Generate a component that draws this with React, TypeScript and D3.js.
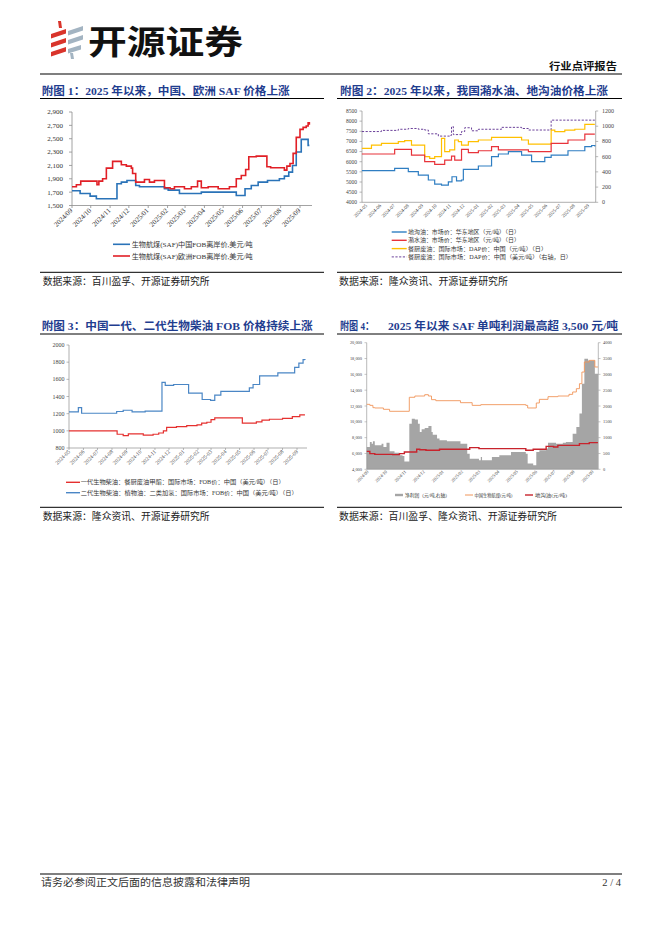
import React from "react";
import * as d3 from "d3";

// ---------- Chart 1 data ----------
const c1Months = ["2024/09","2024/10","2024/11","2024/12","2025/01","2025/02","2025/03","2025/04","2025/05","2025/06","2025/07","2025/08","2025/09"];
const c1YTicks = [1500,1700,1900,2100,2300,2500,2700,2900];
const safChinaDates = ["2024-09-01","2024-09-14","2024-09-30","2024-10-10","2024-11-12","2024-11-19","2024-11-28","2024-12-12","2024-12-18","2025-01-27","2025-02-02","2025-02-20","2025-03-27","2025-05-22","2025-06-05","2025-06-15","2025-06-26","2025-07-11","2025-07-30","2025-08-07","2025-08-14","2025-08-20","2025-08-26","2025-09-03","2025-09-14","2025-09-16"];
const safChinaPrices = [1720,1680,1640,1600,1825,1850,1875,1800,1780,1750,1730,1680,1700,1650,1750,1800,1850,1875,1900,1940,2000,2100,2300,2490,2400,2400];
const safEuropeDates = ["2024-09-01","2024-09-08","2024-09-15","2024-10-11","2024-10-14","2024-10-20","2024-10-26","2024-11-05","2024-11-19","2024-11-27","2024-12-05","2024-12-07","2024-12-12","2024-12-26","2025-01-03","2025-01-11","2025-01-27","2025-02-05","2025-02-12","2025-02-28","2025-03-11","2025-03-21","2025-03-27","2025-04-07","2025-04-23","2025-05-11","2025-05-22","2025-05-30","2025-06-06","2025-06-11","2025-06-23","2025-07-10","2025-07-16","2025-08-07","2025-08-11","2025-08-16","2025-08-21","2025-08-26","2025-09-01","2025-09-06","2025-09-11","2025-09-14","2025-09-16"];
const safEuropePrices = [1780,1810,1865,1810,1865,1900,2060,2160,2110,2090,2060,1980,1850,1890,1850,1875,1765,1750,1780,1750,1780,1865,1765,1780,1750,1780,1900,1950,2040,2230,2240,2080,2065,2030,2090,2130,2280,2520,2640,2670,2690,2740,2710];

// ---------- Chart 2 data ----------
const c2Months = ["2024-05","2024-06","2024-07","2024-08","2024-09","2024-10","2024-11","2024-12","2025-01","2025-02","2025-03","2025-04","2025-05","2025-06","2025-07","2025-08","2025-09"];
const c2LeftTicks = [4000,4500,5000,5500,6000,6500,7000,7500,8000,8500];
const c2RightTicks = [0,200,400,600,800,1000,1200];
const gutterDates = ["2024-04-22","2024-07-03","2024-08-02","2024-08-24","2024-09-15","2024-09-29","2024-10-14","2024-10-29","2024-11-06","2024-11-16","2024-11-27","2024-12-01","2025-01-03","2025-02-01","2025-02-16","2025-03-10","2025-04-08","2025-04-30","2025-05-29","2025-06-12","2025-07-19","2025-08-25","2025-09-09","2025-09-16"];
const gutterPrices = [5560,5670,5510,5340,5100,4900,4850,5010,5260,5060,5100,5620,5790,6250,6380,6500,6330,6000,6210,6330,6540,6740,6800,6750];
const swillDates = ["2024-04-22","2024-07-03","2024-08-09","2024-09-07","2024-09-29","2024-10-21","2024-11-05","2024-11-12","2024-11-27","2024-12-12","2025-01-03","2025-02-01","2025-02-16","2025-04-23","2025-06-12","2025-07-19","2025-08-25","2025-09-16"];
const swillPrices = [6380,6610,6330,6000,5870,6080,6280,6080,6610,6450,6540,6740,6580,6500,6900,7070,7360,7360];
const kitchenCnyDates = ["2024-04-22","2024-05-13","2024-06-04","2024-07-11","2024-07-25","2024-08-09","2024-09-07","2024-09-18","2024-09-29","2024-10-14","2024-10-21","2024-11-01","2024-11-12","2024-11-20","2024-11-27","2024-12-12","2025-01-03","2025-02-01","2025-04-08","2025-04-23","2025-06-12","2025-06-20","2025-07-12","2025-08-03","2025-08-25","2025-09-16"];
const kitchenCnyPrices = [6660,6820,6900,6990,7040,6820,6250,6165,6250,7150,6500,6580,7070,6990,6820,6990,7070,7200,7070,6870,7560,7480,7560,7600,7840,7840];
const kitchenUsdDates = ["2024-04-22","2024-06-04","2024-07-11","2024-08-02","2024-08-24","2024-09-07","2024-09-15","2024-10-07","2024-11-01","2024-11-05","2024-11-09","2024-11-27","2024-12-04","2024-12-19","2025-01-03","2025-02-23","2025-04-08","2025-04-23","2025-06-12","2025-09-16"];
const kitchenUsdPrices = [930,945,960,970,960,950,900,870,880,995,890,930,980,940,960,985,970,950,1080,1080];

// ---------- Chart 3 data ----------
const c3Months = ["2024-05","2024-06","2024-07","2024-08","2024-09","2024-10","2024-11","2024-12","2025-01","2025-02","2025-03","2025-04","2025-05","2025-06","2025-07","2025-08","2025-09"];
const c3YTicks = [800,1000,1200,1400,1600,1800,2000];
const bio1Dates = ["2024-05-01","2024-08-12","2024-08-25","2024-09-05","2024-10-07","2024-10-28","2024-11-09","2024-11-19","2024-11-26","2024-12-17","2025-01-08","2025-01-30","2025-02-09","2025-02-20","2025-03-01","2025-03-09","2025-05-07","2025-06-06","2025-06-18","2025-07-04","2025-08-01","2025-08-22","2025-09-07","2025-09-18"];
const bio1Prices = [1000,960,945,965,950,960,975,1000,1040,1050,1060,1070,1090,1100,1130,1150,1090,1105,1125,1135,1145,1165,1185,1185];
const bio2Dates = ["2024-05-01","2024-05-21","2024-05-28","2024-08-11","2024-08-25","2024-09-13","2024-10-11","2024-11-16","2024-11-23","2024-12-11","2025-01-12","2025-02-10","2025-02-28","2025-03-09","2025-03-22","2025-05-22","2025-05-30","2025-06-13","2025-07-22","2025-08-27","2025-09-05","2025-09-14","2025-09-18"];
const bio2Prices = [1220,1270,1205,1225,1240,1220,1230,1565,1530,1540,1440,1365,1355,1415,1460,1500,1540,1640,1675,1740,1790,1830,1825];

// ---------- Chart 4 data ----------
const c4Months = ["2024/09","2024/10","2024/11","2024/12","2025/01","2025/02","2025/03","2025/04","2025/05","2025/06","2025/07","2025/08","2025/09"];
const c4LeftTicks = [4000,6000,8000,10000,12000,14000,16000,18000,20000];
const c4RightTicks = [0,500,1000,1500,2000,2500,3000,3500,4000];
const profitDates = ["2024-08-30","2024-09-04","2024-09-07","2024-09-09","2024-09-12","2024-09-23","2024-09-26","2024-10-01","2024-10-06","2024-10-14","2024-10-22","2024-10-27","2024-10-30","2024-11-07","2024-11-11","2024-11-16","2024-11-21","2024-11-24","2024-11-27","2024-12-02","2024-12-08","2024-12-13","2024-12-15","2024-12-22","2024-12-26","2025-01-07","2025-01-29","2025-02-09","2025-02-13","2025-02-28","2025-03-03","2025-03-05","2025-03-21","2025-04-02","2025-04-21","2025-05-15","2025-05-18","2025-05-27","2025-06-01","2025-06-06","2025-06-17","2025-06-20","2025-07-03","2025-07-14","2025-07-19","2025-07-30","2025-08-05","2025-08-10","2025-08-14","2025-08-18","2025-08-24","2025-09-04","2025-09-09"];
const profitValues = [705,865,810,885,760,810,705,840,570,525,440,420,250,1440,1600,1570,1440,1180,1265,1305,1370,1180,1095,970,915,885,810,495,335,285,390,285,390,440,547,495,180,125,547,600,655,840,810,840,865,1125,1335,1760,2705,3495,3440,3020,3020];
const safCnyDates = ["2024-08-30","2024-09-04","2024-09-09","2024-09-12","2024-09-26","2024-10-06","2024-11-07","2024-11-16","2024-12-02","2024-12-08","2024-12-13","2024-12-20","2025-01-29","2025-02-17","2025-03-03","2025-05-15","2025-05-18","2025-06-01","2025-06-06","2025-06-20","2025-07-06","2025-07-24","2025-07-30","2025-08-05","2025-08-10","2025-08-14","2025-08-18","2025-08-26","2025-09-04","2025-09-09"];
const safCnyPrices = [12210,12080,11790,11750,11580,11330,13100,13260,13430,13260,12800,12670,12420,12080,12170,12080,11750,12380,12840,13180,13260,13470,13770,14190,14820,16290,17560,17770,16930,16930];
const ucoDates = ["2024-08-30","2024-09-04","2024-09-12","2024-10-11","2024-10-22","2024-10-30","2024-11-19","2024-11-24","2024-12-04","2024-12-26","2025-02-13","2025-02-28","2025-05-15","2025-05-27","2025-06-17","2025-06-29","2025-07-06","2025-08-10","2025-08-26","2025-09-09"];
const ucoPrices = [6270,5980,5890,5850,5980,6190,6530,6480,6400,6530,6740,6610,6400,6530,6900,6820,7030,7240,7370,7370];

// ---------- helpers ----------
const parseDay = d3.timeParse("%Y-%m-%d");
const parseSlash = d3.timeParse("%Y/%m");
const parseDash = d3.timeParse("%Y-%m");
type Pt = { t: Date; v: number };
const zip = (ds: string[], vs: number[]): Pt[] => ds.map((d, i) => ({ t: parseDay(d) as Date, v: vs[i] }));

const SERIF = "'Liberation Serif','Times New Roman','Noto Sans CJK SC',serif";
const CJK = "'Liberation Serif','Noto Sans CJK SC',sans-serif";
const TITLE = "#1f3d8f";
const AX = "#8c8c8c";

function stepLine(data: Pt[], x: any, y: any) {
  return d3.line<Pt>().x(p => x(p.t)).y(p => y(p.v)).curve(d3.curveStepAfter)(data) || "";
}

function Title({ x, y, w, text }: { x: number; y: number; w: number; text: string }) {
  return (
    <text x={x} y={y} fontFamily={CJK} fontWeight="bold" fontSize={11} fill={TITLE} textLength={w} lengthAdjust="spacingAndGlyphs">{text}</text>
  );
}

function Source({ x, y, w, text }: { x: number; y: number; w: number; text: string }) {
  return (
    <text x={x} y={y} fontFamily={CJK} fontSize={9.8} fill="#222" textLength={w} lengthAdjust="spacingAndGlyphs">{text}</text>
  );
}

export default function App() {
  // chart 1
  const x1 = d3.scaleTime().domain([parseDay("2024-09-01") as Date, parseDay("2025-09-01") as Date]).range([72, 300]);
  const y1 = d3.scaleLinear().domain([1500, 2900]).range([205.5, 112]);
  const china = zip(safChinaDates, safChinaPrices);
  const europe = zip(safEuropeDates, safEuropePrices);
  const fmtComma = d3.format(",");

  // chart 2
  const x2 = d3.scaleTime().domain([parseDay("2024-05-01") as Date, parseDay("2025-09-01") as Date]).range([366, 588]);
  const yL2 = d3.scaleLinear().domain([4000, 8500]).range([202.3, 111]);
  const yR2 = d3.scaleLinear().domain([0, 1200]).range([202.3, 111]);
  const gutter = zip(gutterDates, gutterPrices);
  const swill = zip(swillDates, swillPrices);
  const kitCny = zip(kitchenCnyDates, kitchenCnyPrices);
  const kitUsd = zip(kitchenUsdDates, kitchenUsdPrices);

  // chart 3
  const x3 = d3.scaleTime().domain([parseDay("2024-05-01") as Date, parseDay("2025-09-01") as Date]).range([69, 297]);
  const y3 = d3.scaleLinear().domain([800, 2000]).range([448, 345]);
  const bio1 = zip(bio1Dates, bio1Prices);
  const bio2 = zip(bio2Dates, bio2Prices);

  // chart 4
  const x4 = d3.scaleTime().domain([parseDay("2024-09-01") as Date, parseDay("2025-09-01") as Date]).range([368, 593]);
  const yL4 = d3.scaleLinear().domain([4000, 20000]).range([469.3, 342.7]);
  const yR4 = d3.scaleLinear().domain([0, 4000]).range([469.3, 342.7]);
  const profit = zip(profitDates, profitValues);
  const safCny = zip(safCnyDates, safCnyPrices);
  const uco = zip(ucoDates, ucoPrices);
  const profitArea = d3.area<Pt>().x(p => x4(p.t)).y0(yR4(0)).y1(p => yR4(p.v)).curve(d3.curveStepAfter)(profit) || "";

  return (
    <svg width={662} height={936} viewBox="0 0 662 936" style={{ position: "absolute", left: 0, top: 0, background: "#fff" }}>
      <rect x={0} y={0} width={662} height={936} fill="#fff" />
      {/* header logo */}
      <g>
        <polygon points="51,34 66,29 66,33.5 51,38.5" fill="#d9342b" />
        <polygon points="51,43 66,38 66,42.5 51,47.5" fill="#d9342b" />
        <polygon points="51,52 66,47 66,51.5 51,56.5" fill="#d9342b" />
        <polygon points="58,21 61,21 62,28 59,28" fill="#d9342b" />
        <polygon points="68,31 83,26 83,30.5 68,35.5" fill="#a3b4c2" />
        <polygon points="68,40 83,35 83,39.5 68,44.5" fill="#a3b4c2" />
        <polygon points="68,49 81,45 81,49.5 68,53.5" fill="#a3b4c2" />
        <polygon points="70,53 73,53 74,59 71,59" fill="#a3b4c2" />
      </g>
      <text x={88} y={54} fontFamily="'Noto Sans CJK SC',sans-serif" fontWeight="bold" fontSize={33} fill="#111" textLength={155} lengthAdjust="spacingAndGlyphs">开源证券</text>
      <text x={617} y={70} textAnchor="end" fontFamily={CJK} fontWeight="bold" fontSize={10} fill="#111" textLength={68} lengthAdjust="spacingAndGlyphs">行业点评报告</text>
      <line x1={40} x2={622} y1={74} y2={74} stroke="#000" strokeWidth={1.2} />

      {/* ================= Chart 1 ================= */}
      <Title x={41.7} y={95} w={248} text="附图 1：2025 年以来，中国、欧洲 SAF 价格上涨" />
      <line x1={40} x2={324} y1={98.5} y2={98.5} stroke="#000" strokeWidth={1} />
      <line x1={72} x2={72} y1={112} y2={205.5} stroke={AX} strokeWidth={0.8} />
      <line x1={72} x2={312} y1={205.5} y2={205.5} stroke={AX} strokeWidth={0.8} />
      {c1YTicks.map(t => (
        <g key={t}>
          <line x1={69} x2={72} y1={y1(t)} y2={y1(t)} stroke={AX} strokeWidth={0.8} />
          <text x={63} y={y1(t) + 2.4} textAnchor="end" fontFamily={SERIF} fontSize={7} fill="#333">{fmtComma(t)}</text>
        </g>
      ))}
      {c1Months.map(m => {
        const xx = x1(parseSlash(m) as Date);
        return (
          <g key={m}>
            <line x1={xx} x2={xx} y1={205.5} y2={208} stroke={AX} strokeWidth={0.8} />
            <text transform={`translate(${xx + 1},${211}) rotate(-45)`} textAnchor="end" fontFamily={SERIF} fontSize={7} fill="#333">{m}</text>
          </g>
        );
      })}
      <path d={stepLine(china, x1, y1)} fill="none" stroke="#2a73b8" strokeWidth={1.6} />
      <path d={stepLine(europe, x1, y1)} fill="none" stroke="#e11f26" strokeWidth={1.6} />
      <line x1={113} x2={130} y1={244.3} y2={244.3} stroke="#2a73b8" strokeWidth={1.6} />
      <text x={131.7} y={246.8} fontFamily={CJK} fontSize={7} fill="#333" textLength={121} lengthAdjust="spacingAndGlyphs">生物航煤(SAF)中国FOB离岸价,美元/吨</text>
      <line x1={113} x2={130} y1={256} y2={256} stroke="#e11f26" strokeWidth={1.6} />
      <text x={131.7} y={258.5} fontFamily={CJK} fontSize={7} fill="#333" textLength={121} lengthAdjust="spacingAndGlyphs">生物航煤(SAF)欧洲FOB离岸价,美元/吨</text>
      <line x1={40} x2={324} y1={272.3} y2={272.3} stroke="#000" strokeWidth={1} />
      <Source x={42.7} y={285} w={167} text="数据来源：百川盈孚、开源证券研究所" />

      {/* ================= Chart 2 ================= */}
      <Title x={340} y={95} w={268} text="附图 2：2025 年以来，我国潲水油、地沟油价格上涨" />
      <line x1={337} x2={622} y1={98.5} y2={98.5} stroke="#000" strokeWidth={1} />
      <line x1={362} x2={362} y1={111} y2={202.3} stroke={AX} strokeWidth={0.7} />
      <line x1={595.7} x2={595.7} y1={111} y2={202.3} stroke={AX} strokeWidth={0.7} />
      <line x1={362} x2={595.7} y1={202.3} y2={202.3} stroke={AX} strokeWidth={0.7} />
      {c2LeftTicks.map(t => (
        <g key={t}>
          <line x1={359.5} x2={362} y1={yL2(t)} y2={yL2(t)} stroke={AX} strokeWidth={0.6} />
          <text x={357} y={yL2(t) + 1.8} textAnchor="end" fontFamily={SERIF} fontSize={5.5} fill="#444">{t}</text>
        </g>
      ))}
      {c2RightTicks.map(t => (
        <g key={t}>
          <line x1={595.7} x2={598.2} y1={yR2(t)} y2={yR2(t)} stroke={AX} strokeWidth={0.6} />
          <text x={602} y={yR2(t) + 2} fontFamily={SERIF} fontSize={6} fill="#444">{t}</text>
        </g>
      ))}
      {c2Months.map(m => {
        const xx = x2(parseDash(m) as Date);
        return (
          <text key={m} transform={`translate(${xx + 1.5},${206}) rotate(-45)`} textAnchor="end" fontFamily={SERIF} fontSize={5} fill="#444">{m}</text>
        );
      })}
      <path d={stepLine(kitUsd, x2, yR2)} fill="none" stroke="#5b2c8f" strokeWidth={0.9} strokeDasharray="2.2,1.5" />
      <path d={stepLine(kitCny, x2, yL2)} fill="none" stroke="#ffc000" strokeWidth={1.2} />
      <path d={stepLine(swill, x2, yL2)} fill="none" stroke="#e8333a" strokeWidth={1.2} />
      <path d={stepLine(gutter, x2, yL2)} fill="none" stroke="#2f7ec2" strokeWidth={1.2} />
      {[
        { c: "#2f7ec2", t: "地沟油：市场价：华东地区（元/吨）（日）", w: 112, dash: "" },
        { c: "#e8333a", t: "潲水油：市场价：华东地区（元/吨）（日）", w: 112, dash: "" },
        { c: "#ffc000", t: "餐厨废油：国际市场：DAP价：中国（元/吨）（日）", w: 139, dash: "" },
        { c: "#5b2c8f", t: "餐厨废油：国际市场：DAP价：中国（美元/吨）（右轴，日）", w: 164, dash: "2.2,1.5" },
      ].map((it, i) => {
        const yy = 232 + i * 8.3;
        return (
          <g key={i}>
            <line x1={391.7} x2={406.7} y1={yy} y2={yy} stroke={it.c} strokeWidth={it.dash ? 0.9 : 1.4} strokeDasharray={it.dash || undefined} />
            <text x={408} y={yy + 1.9} fontFamily={CJK} fontSize={5.4} fill="#333" textLength={it.w} lengthAdjust="spacingAndGlyphs">{it.t}</text>
          </g>
        );
      })}
      <line x1={337} x2={622} y1={272.3} y2={272.3} stroke="#000" strokeWidth={1} />
      <Source x={339} y={285} w={169} text="数据来源：隆众资讯、开源证券研究所" />

      {/* ================= Chart 3 ================= */}
      <Title x={41.7} y={330} w={271} text="附图 3：中国一代、二代生物柴油 FOB 价格持续上涨" />
      <line x1={40} x2={324} y1={334} y2={334} stroke="#000" strokeWidth={1} />
      <line x1={69} x2={69} y1={345} y2={448} stroke={AX} strokeWidth={0.7} />
      <line x1={69} x2={307} y1={448} y2={448} stroke={AX} strokeWidth={0.7} />
      {c3YTicks.map(t => (
        <g key={t}>
          <line x1={66.5} x2={69} y1={y3(t)} y2={y3(t)} stroke={AX} strokeWidth={0.6} />
          <text x={64.5} y={y3(t) + 2} textAnchor="end" fontFamily={SERIF} fontSize={6} fill="#444">{t}</text>
        </g>
      ))}
      {c3Months.map(m => {
        const xx = x3(parseDash(m) as Date);
        return (
          <g key={m}>
            <line x1={xx} x2={xx} y1={448} y2={450} stroke={AX} strokeWidth={0.6} />
            <text transform={`translate(${xx + 1.5},${452}) rotate(-45)`} textAnchor="end" fontFamily={SERIF} fontSize={5.5} fill="#444">{m}</text>
          </g>
        );
      })}
      <path d={stepLine(bio1, x3, y3)} fill="none" stroke="#e5302f" strokeWidth={1.2} />
      <path d={stepLine(bio2, x3, y3)} fill="none" stroke="#4a86c5" strokeWidth={1.2} />
      <line x1={66} x2={80} y1={482.3} y2={482.3} stroke="#e5302f" strokeWidth={1.4} />
      <text x={80.7} y={484.3} fontFamily={CJK} fontSize={5.6} fill="#333" textLength={204} lengthAdjust="spacingAndGlyphs">一代生物柴油：餐厨废油甲酯：国际市场：FOB价：中国（美元/吨）（日）</text>
      <line x1={66} x2={80} y1={492.7} y2={492.7} stroke="#4a86c5" strokeWidth={1.4} />
      <text x={80.7} y={494.7} fontFamily={CJK} fontSize={5.6} fill="#333" textLength={217} lengthAdjust="spacingAndGlyphs">二代生物柴油：植物油：二类加氢：国际市场：FOB价：中国（美元/吨）（日）</text>
      <line x1={40} x2={324} y1={507.3} y2={507.3} stroke="#000" strokeWidth={1} />
      <Source x={42.7} y={520} w={167} text="数据来源：隆众资讯、开源证券研究所" />

      {/* ================= Chart 4 ================= */}
      <Title x={340} y={330} w={34} text="附图 4：" />
      <Title x={388} y={330} w={230} text="2025 年以来 SAF 单吨利润最高超 3,500 元/吨" />
      <line x1={337} x2={622} y1={334} y2={334} stroke="#000" strokeWidth={1} />
      <path d={profitArea} fill="#a5a5a5" stroke="none" />
      <line x1={366.7} x2={366.7} y1={342.7} y2={469.3} stroke={AX} strokeWidth={0.6} />
      <line x1={598.3} x2={598.3} y1={342.7} y2={469.3} stroke={AX} strokeWidth={0.6} />
      <line x1={366.7} x2={598.3} y1={469.3} y2={469.3} stroke={AX} strokeWidth={0.6} />
      {c4LeftTicks.map(t => (
        <g key={t}>
          <line x1={364.5} x2={366.7} y1={yL4(t)} y2={yL4(t)} stroke={AX} strokeWidth={0.5} />
          <text x={362} y={yL4(t) + 1.5} textAnchor="end" fontFamily={SERIF} fontSize={4.4} fill="#444">{fmtComma(t)}</text>
        </g>
      ))}
      {c4RightTicks.map(t => (
        <g key={t}>
          <line x1={598.3} x2={600.5} y1={yR4(t)} y2={yR4(t)} stroke={AX} strokeWidth={0.5} />
          <text x={603} y={yR4(t) + 1.5} fontFamily={SERIF} fontSize={4.4} fill="#444">{t}</text>
        </g>
      ))}
      {c4Months.map(m => {
        const xx = x4(parseSlash(m) as Date);
        return (
          <text key={m} transform={`translate(${xx + 1},${472}) rotate(-45)`} textAnchor="end" fontFamily={SERIF} fontSize={4.6} fill="#444">{m}</text>
        );
      })}
      <path d={stepLine(safCny, x4, yL4)} fill="none" stroke="#f0955a" strokeWidth={0.9} />
      <path d={stepLine(uco, x4, yL4)} fill="none" stroke="#c8232c" strokeWidth={1.4} />
      <rect x={395} y={493.8} width={8} height={2.4} fill="#a5a5a5" />
      <text x={405} y={496.6} fontFamily={CJK} fontSize={4.6} fill="#333" textLength={45} lengthAdjust="spacingAndGlyphs">净利润（元/吨,右轴）</text>
      <line x1={465} x2={473} y1={495} y2={495} stroke="#f0955a" strokeWidth={1} />
      <text x={474.5} y={496.6} fontFamily={CJK} fontSize={4.6} fill="#333" textLength={38} lengthAdjust="spacingAndGlyphs">中国生物航煤(元/吨)</text>
      <line x1={525} x2={533} y1={495} y2={495} stroke="#c8232c" strokeWidth={1.4} />
      <text x={535} y={496.6} fontFamily={CJK} fontSize={4.6} fill="#333" textLength={32} lengthAdjust="spacingAndGlyphs">地沟油(元/吨)</text>
      <line x1={337} x2={622} y1={507.3} y2={507.3} stroke="#000" strokeWidth={1} />
      <Source x={339} y={520} w={218} text="数据来源：百川盈孚、隆众资讯、开源证券研究所" />

      {/* footer */}
      <line x1={40} x2={622} y1={874} y2={874} stroke="#000" strokeWidth={1.2} />
      <text x={41} y={886} fontFamily={CJK} fontSize={10} fill="#333" textLength={209} lengthAdjust="spacingAndGlyphs">请务必参阅正文后面的信息披露和法律声明</text>
      <text x={621} y={886} textAnchor="end" fontFamily={SERIF} fontSize={10.5} fill="#333">2 / 4</text>
    </svg>
  );
}
